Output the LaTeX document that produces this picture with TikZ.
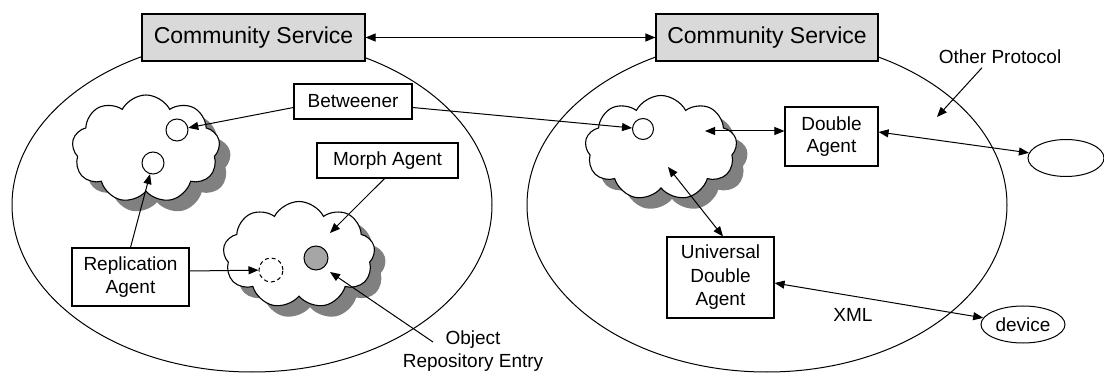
\documentclass[tikz,border=0pt]{standalone}
\usepackage{fontspec}
\setmainfont{Liberation Sans}
\usetikzlibrary{shapes.symbols,shapes.geometric,shadows,arrows.meta}

\begin{document}
\begin{tikzpicture}[x=1pt,y=-1pt,
  >={Triangle[length=10pt,width=8pt]},
  every node/.style={font=\fontsize{19}{22.5}\selectfont},
  box/.style={draw, line width=1.1pt, fill=white, align=center, inner sep=0pt},
  service/.style={draw, line width=1.1pt, fill=black!15, inner sep=0pt,
    minimum width=223pt, minimum height=47pt, font=\fontsize{23}{26}\selectfont},
  puff/.style={cloud, cloud puffs=9, cloud puff arc=125, aspect=1.4, draw, line width=1.1pt,
    fill=white, inner sep=0pt,
    drop shadow={shadow xshift=11pt, shadow yshift=-11pt, fill=black!50, opacity=1}},
  port/.style={circle, draw, line width=1pt, minimum size=22pt, inner sep=0pt, fill=white},
  oval/.style={ellipse, draw, line width=1pt, fill=white, inner sep=0pt},
  label/.style={inner sep=0pt, align=center},
  link/.style={line width=1pt, ->},
  both/.style={line width=1pt, <->},
]
\useasboundingbox (0,0) rectangle (1104,374);
\fill[white] (0,0) rectangle (1104,374);

% the two communities
\draw[line width=1pt] (252,205) ellipse [x radius=240pt, y radius=167pt];
\draw[line width=1pt] (767,205) ellipse [x radius=240pt, y radius=167pt];

% clouds of agents
\node[puff, minimum width=148pt, minimum height=108pt] (cl1) at (146,149) {};
\node[puff, minimum width=152pt, minimum height=107pt] (cl2) at (299,255) {};
\node[puff, minimum width=152pt, minimum height=105pt] (cl3) at (661,148) {};

% ports inside the clouds
\node[port] (c1) at (177,130) {};
\node[port] (c2) at (153,163) {};
\node[port, minimum size=21pt] (c3) at (643,129) {};
\node[port, dash pattern=on 4pt off 3pt, minimum size=24pt] (c4) at (271,270) {};
\node[port, fill=black!35, minimum size=24pt] (c5) at (316,258) {};

% community services
\node[service] (cs1) at (253.5,37.5) {Community Service};
\node[service, minimum width=222pt] (cs2) at (767,37.5) {Community Service};

% agents
\node[box, minimum width=118pt, minimum height=35pt] (btw) at (353,101.5) {Betweener};
\node[box, minimum width=141pt, minimum height=35pt] (morph) at (387.5,160.5) {Morph Agent};
\node[box, minimum width=117pt, minimum height=58pt] (rep) at (130.5,277) {Replication\\Agent};
\node[box, minimum width=93pt, minimum height=59pt] (dbl) at (831.5,136.5) {Double\\Agent};
\node[box, minimum width=107pt, minimum height=81pt, font=\fontsize{19}{23.5}\selectfont]
  (uda) at (720.5,277.5) {Universal\\Double\\Agent};

% external endpoints
\node[oval, minimum width=76pt, minimum height=37pt] (oth) at (1066,158) {};
\node[oval, minimum width=84pt, minimum height=37pt] (dev) at (1023,324.5) {device};

% free labels
\node[anchor=base] (othlbl) at (1000,64) {Other Protocol};
\node[label] (xml) at (853,315) {XML};
\node[label] (ore) at (473,351) {Object\\Repository Entry};

% free ends of connectors
\coordinate (mt) at (330,233);
\coordinate (ot) at (330,272);
\coordinate (oretail) at (433,342);
\coordinate (cin) at (705,131);
\coordinate (cdn) at (668,167);
\coordinate (opt) at (937,117);

% connectors
\draw[both] (cs1) -- (cs2);
\draw[link] ([yshift=-6pt]btw.west) -- (c1);
\draw[link] ([yshift=-6pt]btw.east) -- (c3);
\draw[link] (rep.north) -- (c2);
\draw[link] ([yshift=6pt]rep.east) -- (c4);
\draw[link] ([xshift=-3pt]morph.south) -- (mt);
\draw[link] (oretail) -- (ot);
\draw[both] (cin) -- (dbl.west |- cin);
\draw[both] ([yshift=4.5pt]dbl.east) -- (oth);
\draw[both] (cdn) -- ([xshift=2.5pt]uda.north);
\draw[both] ([yshift=-5.5pt]uda.east) -- (dev);
\draw[link] ([xshift=-18pt]othlbl.south) -- (opt);
\end{tikzpicture}
\end{document}
